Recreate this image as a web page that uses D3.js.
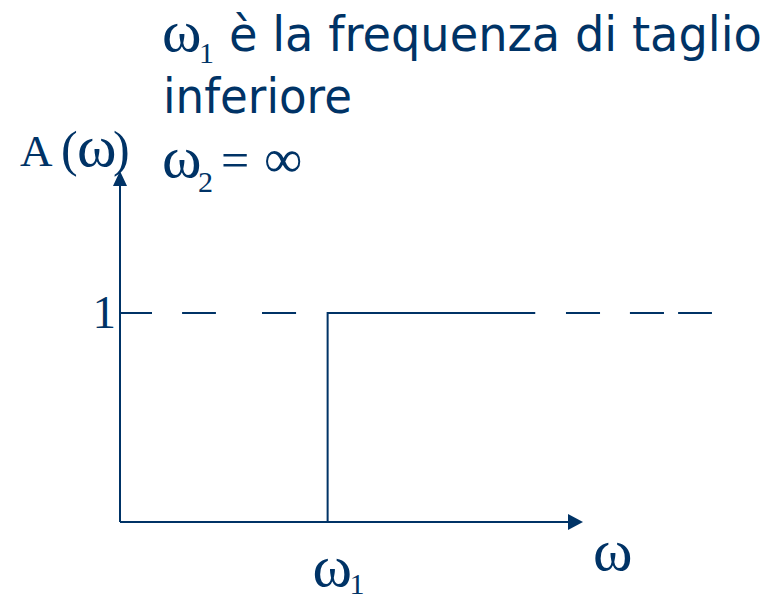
<!DOCTYPE html>
<html>
<head>
<meta charset="utf-8">
<script src="https://cdn.jsdelivr.net/npm/d3@7"></script>
<style>
  html, body { margin: 0; padding: 0; background: #ffffff; }
  svg { display: block; }
</style>
</head>
<body>
<svg id="chart" width="776" height="598"></svg>
<script>
// High-pass amplitude response: A(ω) = 0 below the cut-off ω1, 1 above it.
const omegaAxisMax = 2.23;        // end of the ω axis (arrow tip)
const gainAxisMax = 1.68;         // end of the A(ω) axis (arrow tip)
const stepOmega = [1, 1, 2];      // ω1 = 1
const stepGain = [0, 1, 1];
const refGain = 1;                // dashed unit-gain reference
const dashStart = [0, 0.299, 0.684, 2.148, 2.456, 2.688];
const dashEnd = [0.154, 0.462, 0.848, 2.312, 2.620, 2.851];
const gainTickLabels = ["1"];
const gainTickValues = [1];

const ink = "#003366";
const serif = "'Liberation Serif', 'Times New Roman', serif";
const sans = "'DejaVu Sans', Verdana, sans-serif";
const omegaSize = 60;

const svg = d3.select("#chart");
const x = d3.scaleLinear().domain([0, omegaAxisMax]).range([120, 583]);
const y = d3.scaleLinear().domain([0, 1]).range([522, 313]);

// Axes with arrowheads
const axes = svg.append("g").attr("stroke", ink).attr("stroke-width", 2).attr("fill", "none");
axes.append("line")
  .attr("x1", x(0)).attr("y1", y(0))
  .attr("x2", x(omegaAxisMax) - 12).attr("y2", y(0));
axes.append("line")
  .attr("x1", x(0)).attr("y1", y(0))
  .attr("x2", x(0)).attr("y2", y(gainAxisMax) + 12);
svg.append("path")
  .attr("fill", ink)
  .attr("d", `M${x(omegaAxisMax)},${y(0)} L${x(omegaAxisMax) - 15},${y(0) - 8} L${x(omegaAxisMax) - 15},${y(0) + 8} Z`);
svg.append("path")
  .attr("fill", ink)
  .attr("d", `M${x(0)},${y(gainAxisMax)} L${x(0) - 7},${y(gainAxisMax) + 15} L${x(0) + 7},${y(gainAxisMax) + 15} Z`);

// Dashed unit-gain reference
svg.append("g").selectAll("line")
  .data(d3.zip(dashStart, dashEnd))
  .join("line")
  .attr("x1", d => x(d[0])).attr("x2", d => x(d[1]))
  .attr("y1", y(refGain)).attr("y2", y(refGain))
  .attr("stroke", ink).attr("stroke-width", 2);

// Step response
const line = d3.line().x(d => x(d[0])).y(d => y(d[1])).curve(d3.curveLinear);
svg.append("path")
  .datum(d3.zip(stepOmega, stepGain))
  .attr("d", line)
  .attr("fill", "none")
  .attr("stroke", ink)
  .attr("stroke-width", 2);

// Gain tick label
svg.append("g").selectAll("text")
  .data(d3.zip(gainTickValues, gainTickLabels))
  .join("text")
  .attr("x", x(0) - 4)
  .attr("y", d => y(d[0]) + 15)
  .attr("text-anchor", "end")
  .attr("font-family", serif)
  .attr("font-size", 47)
  .attr("fill", ink)
  .text(d => d[1]);

// Axis titles
const aLabel = svg.append("text").attr("y", 166).attr("font-family", serif).attr("fill", ink);
aLabel.append("tspan").attr("x", 20).attr("font-size", 45).text("A");
aLabel.append("tspan").attr("x", 61).attr("font-size", 50).text("(");
aLabel.append("tspan").attr("x", 77).attr("font-size", omegaSize).text("ω");
aLabel.append("tspan").attr("x", 113).attr("font-size", 50).text(")");

svg.append("text")
  .attr("x", 593).attr("y", 570)
  .attr("font-family", serif).attr("font-size", omegaSize).attr("fill", ink)
  .text("ω");

// ω1 under the cut-off
const w1 = svg.append("text").attr("font-family", serif).attr("fill", ink);
w1.append("tspan").attr("x", x(stepOmega[0]) - 15).attr("y", 586).attr("font-size", omegaSize).text("ω");
w1.append("tspan").attr("x", x(stepOmega[0]) + 22).attr("y", 594).attr("font-size", 30).text("1");

// Caption
const cap1 = svg.append("text").attr("font-family", serif).attr("fill", ink);
cap1.append("tspan").attr("x", 162).attr("y", 51).attr("font-size", omegaSize).text("ω");
cap1.append("tspan").attr("x", 199).attr("y", 63).attr("font-size", 30).text("1");

function fitText(sel, left, right) {
  const w = sel.node().getComputedTextLength();
  const k = (right - left) / w;
  sel.attr("transform", `translate(${left},0) scale(${k},1)`).attr("x", 0);
}

const line1 = svg.append("text")
  .attr("y", 51).attr("font-family", sans).attr("font-size", 48).attr("fill", ink)
  .text("è la frequenza di taglio");
fitText(line1, 229, 762);

const line2 = svg.append("text")
  .attr("y", 113).attr("font-family", sans).attr("font-size", 48).attr("fill", ink)
  .text("inferiore");
fitText(line2, 163, 352);

const cap3 = svg.append("text").attr("font-family", serif).attr("fill", ink);
cap3.append("tspan").attr("x", 162).attr("y", 177).attr("font-size", omegaSize).text("ω");
cap3.append("tspan").attr("x", 198).attr("y", 192).attr("font-size", 30).text("2");
cap3.append("tspan").attr("x", 221).attr("y", 177).attr("font-size", 50).text("=");
cap3.append("tspan").attr("x", 264).attr("y", 177).attr("font-size", 54).text("∞");
</script>
</body>
</html>
